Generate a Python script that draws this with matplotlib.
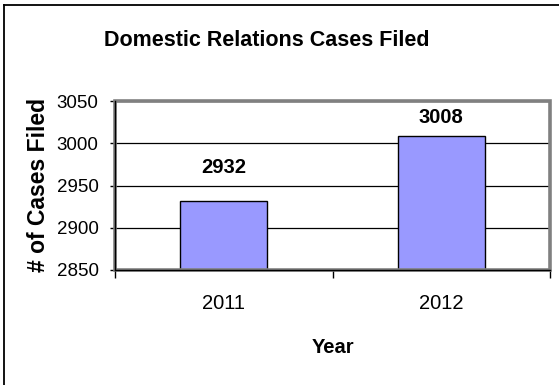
import matplotlib.pyplot as plt
from matplotlib.lines import Line2D
from matplotlib.patches import Rectangle

years = ['2011', '2012']
cases = [2932, 3008]
y_ticks = [2850, 2900, 2950, 3000, 3050]

plt.rcParams['font.family'] = ['Liberation Sans', 'DejaVu Sans']

fig = plt.figure(figsize=(5.59, 3.85), dpi=100)
ax = fig.add_axes([115 / 559, 1 - 270 / 385, 435 / 559, 169 / 385])

x = range(len(years))
ax.bar(x, cases, width=0.4, color='#9999ff', edgecolor='black', linewidth=1, zorder=3)

# value labels; the tall bar's label is squeezed under the top of the frame
label_offsets = [17, 7]
for xi, v, off in zip(x, cases, label_offsets):
    ax.annotate(str(v), (xi, v), xytext=(0, off), textcoords='offset points',
                ha='center', va='bottom', fontsize=14.5, fontweight='bold', zorder=4)

ax.set_xlim(-0.5, len(years) - 0.5)
ax.set_ylim(y_ticks[0], y_ticks[-1])
ax.set_yticks(y_ticks)
ax.yaxis.grid(True, color='black', linewidth=0.9, zorder=1)
ax.set_axisbelow(True)

# tick marks sit between the categories, labels in the middle
ax.set_xticks([i - 0.5 for i in range(len(years) + 1)])
ax.set_xticklabels([])
ax.set_xticks(list(x), minor=True)
ax.set_xticklabels(years, minor=True, fontsize=14.5)
ax.tick_params(axis='x', which='major', length=5.5, width=1, color='black')
ax.tick_params(axis='x', which='minor', length=0, pad=17)
ax.tick_params(axis='y', length=3.8, width=1, pad=8, labelsize=13.5)

# grey frame around the plot area
ax.add_patch(Rectangle((0, 0), 1, 1, transform=ax.transAxes, fill=False,
                       edgecolor='#808080', linewidth=2.6, zorder=5, clip_on=False))
for side in ['top', 'right']:
    ax.spines[side].set_visible(False)
for side in ['left', 'bottom']:
    ax.spines[side].set_color('black')
    ax.spines[side].set_linewidth(1)
    ax.spines[side].set_zorder(6)

ax.set_xlabel('Year', fontsize=14.5, fontweight='bold', labelpad=18)
ax.set_ylabel('# of Cases Filed', fontsize=16.5, fontweight='bold', labelpad=5)
fig.text(267 / 559, 1 - 40 / 385, 'Domestic Relations Cases Filed', ha='center',
         va='center', fontsize=15.5, fontweight='bold')

# outer chart border (top and left edges)
fig.add_artist(Line2D([4 / 559, 1], [1 - 5 / 385, 1 - 5 / 385], color='black', linewidth=1.3))
fig.add_artist(Line2D([4 / 559, 4 / 559], [0, 1 - 5 / 385], color='black', linewidth=1.3))

fig.savefig('out.png', dpi=100)
